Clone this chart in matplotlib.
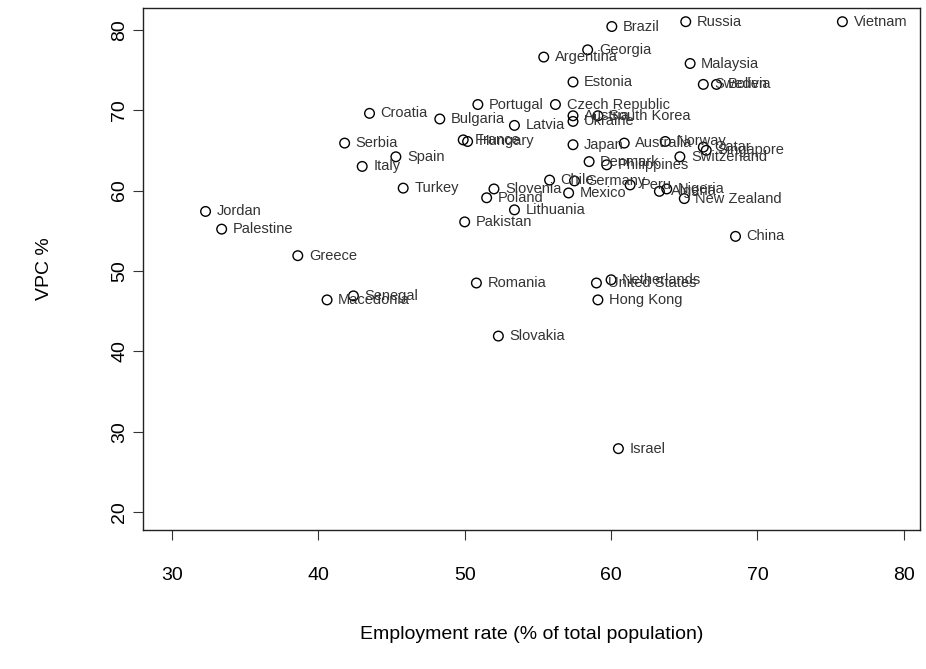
import matplotlib.pyplot as plt

plt.rcParams['font.family'] = ['Liberation Sans', 'DejaVu Sans']

# Employment rate (% of total population) vs VPC %
countries = ['Brazil', 'Russia', 'Vietnam', 'Georgia', 'Argentina', 'Malaysia',
             'Estonia', 'Sweden', 'Bolivia', 'Portugal', 'Czech Republic',
             'South Korea', 'Croatia', 'Bulgaria', 'Latvia', 'Ukraine', 'Austria',
             'Serbia', 'France', 'Hungary', 'Japan', 'Australia', 'Norway',
             'Singapore', 'Qatar', 'Spain', 'Switzerland', 'Denmark', 'Philippines',
             'Italy', 'Chile', 'Germany', 'Turkey', 'Slovenia', 'Poland', 'Mexico',
             'Peru', 'Algeria', 'Nigeria', 'New Zealand', 'Jordan', 'Palestine',
             'Lithuania', 'Pakistan', 'China', 'Greece', 'Romania', 'Netherlands',
             'United States', 'Hong Kong', 'Macedonia', 'Senegal', 'Slovakia', 'Israel']
employment = [60.05, 65.1, 75.8, 58.4, 55.4, 65.4,
              57.4, 66.3, 67.2, 50.9, 56.2,
              59.1, 43.5, 48.3, 53.4, 57.4, 57.4,
              41.8, 49.9, 50.2, 57.4, 60.9, 63.7,
              66.5, 66.3, 45.3, 64.7, 58.5, 59.7,
              43.0, 55.8, 57.5, 45.8, 52.0, 51.5, 57.1,
              61.3, 63.3, 63.8, 65.0, 32.3, 33.4,
              53.4, 50.0, 68.5, 38.6, 50.8, 60.0,
              59.0, 59.1, 40.6, 42.4, 52.3, 60.5]
vpc = [80.4, 81.0, 81.0, 77.5, 76.6, 75.8,
       73.5, 73.2, 73.2, 70.7, 70.7,
       69.3, 69.6, 68.9, 68.1, 68.6, 69.3,
       65.9, 66.3, 66.1, 65.7, 65.9, 66.1,
       65.0, 65.4, 64.2, 64.2, 63.6, 63.2,
       63.0, 61.3, 61.2, 60.3, 60.2, 59.1, 59.7,
       60.7, 59.9, 60.2, 59.0, 57.4, 55.2,
       57.6, 56.1, 54.3, 51.9, 48.5, 48.9,
       48.5, 46.4, 46.4, 46.9, 41.9, 27.9]

fig = plt.figure(figsize=(9.26, 6.69), dpi=100)
ax = fig.add_axes([0.154, 0.208, 0.8395, 0.78])

ax.scatter(employment, vpc, s=48, facecolors='none', edgecolors='black', linewidths=1.0)
for name, x, y in zip(countries, employment, vpc):
    ax.annotate(name, (x, y), xytext=(8, 0), textcoords='offset points',
                ha='left', va='center', fontsize=10.5, color='#333333')

ax.set_xlim(28.0, 81.1)
ax.set_ylim(17.8, 82.7)
ax.set_xticks([30, 40, 50, 60, 70, 80])
ax.set_yticks([20, 30, 40, 50, 60, 70, 80])
ax.tick_params(axis='both', direction='out', length=7, labelsize=14, color='#333333')
ax.tick_params(axis='x', pad=20)
for lbl in ax.get_yticklabels():
    lbl.set_rotation(90)
    lbl.set_va('center')
ax.set_xlabel('Employment rate (% of total population)', fontsize=14, labelpad=30)
ax.set_ylabel('VPC %', fontsize=14, labelpad=42)
for sp in ax.spines.values():
    sp.set_linewidth(1.0)
    sp.set_color('#222222')

plt.savefig('out.png', dpi=100)
